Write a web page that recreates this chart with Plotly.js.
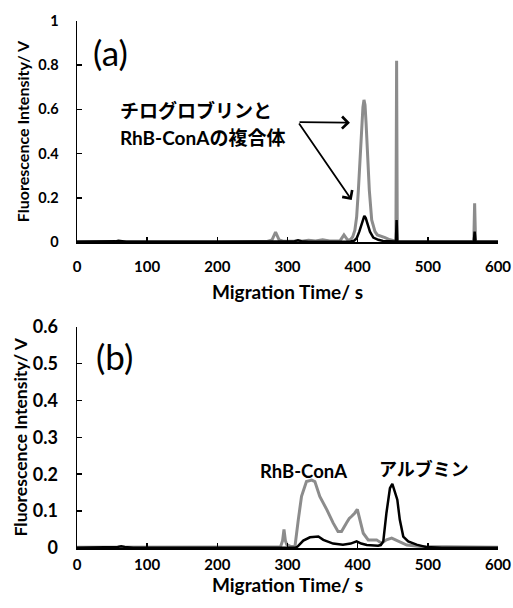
<!DOCTYPE html>
<html>
<head>
<meta charset="utf-8">
<script src="https://cdn.plot.ly/plotly-3.0.1.min.js"></script>
<style>html,body{margin:0;padding:0;background:#fff;}#chart{width:513px;height:608px;}</style>
</head>
<body>
<div id="chart"></div>
<script>
// ---- Panel (a) ----
const aGreyX = [0, 20, 50, 59, 65, 100, 200, 270, 278, 283, 288, 295, 320, 330, 340, 350, 360, 375, 380.5, 386, 390, 393, 396, 398.6, 401, 403.3, 405.7, 407.5, 409, 410.5, 412, 414.2, 416.6, 420, 424.7, 428, 431.8, 436, 439, 446, 453, 454.5, 455.5, 456.5, 458, 480, 520, 560, 565.5, 566.7, 568, 575, 600];
const aGreyY = [0.002, 0.002, 0.002, 0.003, 0.002, 0.002, 0.002, 0.002, 0.01, 0.045, 0.01, 0.003, 0.004, 0.008, 0.005, 0.01, 0.005, 0.006, 0.032, 0.008, 0.012, 0.024, 0.054, 0.115, 0.235, 0.386, 0.537, 0.61, 0.643, 0.62, 0.537, 0.386, 0.235, 0.1, 0.047, 0.032, 0.029, 0.024, 0.02, 0.01, 0.004, 0.004, 0.82, 0.004, 0.003, 0.002, 0.002, 0.002, 0.003, 0.175, 0.003, 0.002, 0.002];
const aBlackX = [0, 50, 55, 59, 63, 70, 200, 300, 310, 315, 320, 330, 390, 395, 398.6, 402.3, 405.7, 407.5, 409.5, 411.5, 413.7, 417.5, 422.3, 429.4, 436, 445, 454.5, 455.5, 456.5, 465, 560, 565.5, 566.7, 568, 600];
const aBlackY = [0.001, 0.001, 0.003, 0.006, 0.003, 0.001, 0.001, 0.001, 0.004, 0.008, 0.004, 0.001, 0.002, 0.006, 0.017, 0.047, 0.085, 0.108, 0.118, 0.108, 0.085, 0.047, 0.02, 0.01, 0.005, 0.002, 0.002, 0.1, 0.002, 0.001, 0.001, 0.001, 0.047, 0.001, 0.001];

// ---- Panel (b) ----
const bGreyX = [0, 50, 63, 70, 150, 250, 290, 293, 295, 297, 299, 305, 310.7, 315.4, 320, 327, 334.5, 339, 346, 356, 365, 372, 377, 384, 388, 391.5, 396, 399.5, 403, 408, 415, 427, 434, 441, 448.5, 458, 470, 490, 520, 600];
const bGreyY = [0.002, 0.002, 0.003, 0.002, 0.002, 0.002, 0.003, 0.02, 0.05, 0.02, 0.009, 0.004, 0.005, 0.077, 0.14, 0.18, 0.184, 0.18, 0.14, 0.104, 0.068, 0.045, 0.045, 0.068, 0.08, 0.086, 0.095, 0.105, 0.077, 0.04, 0.022, 0.022, 0.013, 0.022, 0.027, 0.018, 0.008, 0.004, 0.003, 0.002];
const bBlackX = [0, 50, 58, 63, 68, 80, 300, 312, 315, 322.5, 332, 344, 351, 365, 379, 390, 398.5, 405, 413, 429, 433, 436.5, 441, 446, 449.4, 453, 456.5, 460, 465, 472, 484, 497, 520, 600];
const bBlackY = [0.001, 0.001, 0.003, 0.005, 0.003, 0.001, 0.001, 0.001, 0.005, 0.02, 0.029, 0.031, 0.022, 0.012, 0.009, 0.012, 0.018, 0.012, 0.008, 0.006, 0.008, 0.018, 0.095, 0.162, 0.174, 0.153, 0.131, 0.077, 0.031, 0.018, 0.009, 0.003, 0.001, 0.001];

const xTicks = [0, 100, 200, 300, 400, 500, 600];
const aYTicks = [0, 0.2, 0.4, 0.6, 0.8, 1];
const bYTicks = [0, 0.1, 0.2, 0.3, 0.4, 0.5, 0.6];

const FONT = "Lato, 'Noto Sans CJK JP', sans-serif";
const GREY = '#8c8c8c';

const traces = [
  {x: aGreyX, y: aGreyY, xaxis: 'x', yaxis: 'y', mode: 'lines', line: {color: GREY, width: 3}},
  {x: aBlackX, y: aBlackY, xaxis: 'x', yaxis: 'y', mode: 'lines', line: {color: '#000', width: 2.5}},
  {x: bGreyX, y: bGreyY, xaxis: 'x2', yaxis: 'y2', mode: 'lines', line: {color: GREY, width: 3}},
  {x: bBlackX, y: bBlackY, xaxis: 'x2', yaxis: 'y2', mode: 'lines', line: {color: '#000', width: 2.5}}
];

function xa(anchor, labelStandoff, titleStandoff) {
  return {
    anchor: anchor, domain: [0, 1], range: [0, 600], tickvals: xTicks, ticks: 'inside', ticklen: 5, tickwidth: 1.5,
    tickcolor: '#000', showline: true, linecolor: '#000', linewidth: 2, showgrid: false, zeroline: false,
    tickfont: {family: FONT, size: 15, color: '#000', weight: 'bold'}, ticklabelstandoff: labelStandoff,
    title: {text: 'Migration Time/ s', font: {family: FONT, size: 19, color: '#000', weight: 'bold'}, standoff: titleStandoff}
  };
}
function ya(anchor, range, ticks, domain, tsize, titleSize, titleStandoff) {
  return {
    anchor: anchor, domain: domain, range: range, tickvals: ticks, ticks: 'inside', ticklen: 5, tickwidth: 1.5,
    tickcolor: '#000', showline: true, linecolor: '#000', linewidth: 1.5, showgrid: false, zeroline: false,
    tickfont: {family: FONT, size: tsize, color: '#000', weight: 'bold'}, ticklabelstandoff: 14,
    title: {text: 'Fluorescence Intensity/ V', font: {family: FONT, size: titleSize, color: '#000', weight: 'bold'}, standoff: titleStandoff}
  };
}

const layout = {
  width: 513, height: 608,
  margin: {l: 77, r: 15, t: 21, b: 60},
  paper_bgcolor: '#fff', plot_bgcolor: '#fff',
  showlegend: false,
  xaxis: xa('y', 10, 12),
  yaxis: ya('x', [0, 1], aYTicks, [0.5806, 1], 14.5, 16, 4),
  xaxis2: xa('y2', 2, 5),
  yaxis2: ya('x2', [0, 0.6], bYTicks, [0, 0.42], 18, 17.5, 0),
  annotations: [
    {xref: 'x', yref: 'y', x: 20, y: 0.86, text: '(a)', showarrow: false, xanchor: 'left', yanchor: 'middle',
     font: {family: FONT, size: 35, color: '#000'}},
    {xref: 'x2', yref: 'y2', x: 24, y: 0.52, text: '(b)', showarrow: false, xanchor: 'left', yanchor: 'middle',
     font: {family: FONT, size: 35, color: '#000'}},
    {xref: 'x', yref: 'y', x: 58, y: 0.597, text: 'チログロブリンと', showarrow: false, xanchor: 'left', yanchor: 'middle',
     font: {family: FONT, size: 19, color: '#000', weight: 'bold'}},
    {xref: 'x', yref: 'y', x: 58, y: 0.475, text: 'RhB-ConAの複合体', showarrow: false, xanchor: 'left', yanchor: 'middle',
     font: {family: FONT, size: 19, color: '#000', weight: 'bold'}},
    {xref: 'x', yref: 'y', axref: 'x', ayref: 'y', x: 389, y: 0.54, ax: 315, ay: 0.543, text: '', showarrow: true,
     arrowhead: 4, arrowsize: 1.3, arrowwidth: 1.8, arrowcolor: '#000', standoff: 0, startstandoff: 0},
    {xref: 'x', yref: 'y', axref: 'x', ayref: 'y', x: 391.5, y: 0.19, ax: 315, ay: 0.543, text: '', showarrow: true,
     arrowhead: 4, arrowsize: 1.3, arrowwidth: 1.8, arrowcolor: '#000', standoff: 0, startstandoff: 0},
    {xref: 'x2', yref: 'y2', x: 323, y: 0.21, text: 'RhB-ConA', showarrow: false, xanchor: 'center', yanchor: 'middle',
     font: {family: FONT, size: 18.5, color: '#000', weight: 'bold'}},
    {xref: 'x2', yref: 'y2', x: 494, y: 0.213, text: 'アルブミン', showarrow: false, xanchor: 'center', yanchor: 'middle',
     font: {family: FONT, size: 18, color: '#000', weight: 'bold'}}
  ]
};

Plotly.newPlot('chart', traces, layout, {displayModeBar: false, staticPlot: true});
</script>
</body>
</html>
